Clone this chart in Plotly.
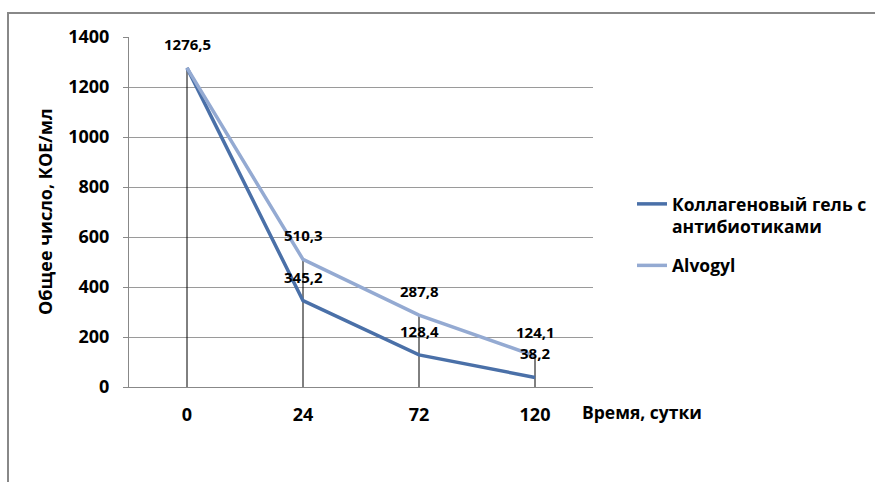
import plotly.graph_objects as go

categories = ["0", "24", "72", "120"]
series_names = ["Коллагеновый гель с<br>антибиотиками", "Alvogyl"]
collagen = [1276.5, 345.2, 128.4, 38.2]
alvogyl = [1276.5, 510.3, 287.8, 124.1]
y_ticks = [0, 200, 400, 600, 800, 1000, 1200, 1400]
x_title = "Время, сутки"
y_title = "Общее число, КОЕ/мл"

W, H = 875, 482
FONT = "Open Sans"
C_DARK = "#4a70a8"
C_LIGHT = "#94aad2"

def px_x(v):
    return v / W

def px_y(v):
    return 1 - v / H

fig = go.Figure()

# drop lines
for i, c in enumerate(categories):
    fig.add_trace(go.Scatter(
        x=[c, c], y=[0, max(collagen[i], alvogyl[i])],
        mode="lines", line=dict(color="black", width=1),
        showlegend=False, hoverinfo="skip"))

fig.add_trace(go.Scatter(x=categories, y=collagen, name=series_names[0],
                         mode="lines", line=dict(color=C_DARK, width=3.5),
                         legendgroup="a"))
fig.add_trace(go.Scatter(x=categories, y=alvogyl, name=series_names[1],
                         mode="lines", line=dict(color=C_LIGHT, width=3.5),
                         legendgroup="b"))

def fmt(v):
    return f"{v:.1f}".replace(".", ",")

LBL = dict(family=FONT, size=15, color="black", weight="bold")
anns = []
for i, c in enumerate(categories):
    anns.append(dict(x=i, y=collagen[i], xref="x", yref="y", text=fmt(collagen[i]),
                     showarrow=False, yshift=24, font=LBL))
    if alvogyl[i] != collagen[i]:
        anns.append(dict(x=i, y=alvogyl[i], xref="x", yref="y", text=fmt(alvogyl[i]),
                         showarrow=False, yshift=24, font=LBL))

anns.append(dict(x=px_x(642), y=px_y(412), xref="paper", yref="paper", text=x_title,
                 showarrow=False, xanchor="center", yanchor="middle",
                 font=dict(family=FONT, size=17.5, color="black", weight="bold")))
anns.append(dict(x=px_x(45), y=px_y(212), xref="paper", yref="paper", text=y_title,
                 showarrow=False, textangle=-90, xanchor="center", yanchor="middle",
                 font=dict(family=FONT, size=18, color="black", weight="bold")))

fig.update_layout(
    width=W, height=H,
    margin=dict(l=0, r=0, t=0, b=0, autoexpand=False),
    paper_bgcolor="white", plot_bgcolor="white",
    annotations=anns,
    shapes=[dict(type="rect", xref="paper", yref="paper",
                 x0=px_x(8), x1=1.05, y0=-0.05, y1=px_y(13),
                 line=dict(color="#888888", width=2), layer="below")],
    legend=dict(x=px_x(632), y=px_y(186), xanchor="left", yanchor="top",
                font=dict(family=FONT, size=17.5, color="black", weight="bold"),
                valign="top", traceorder="grouped", tracegroupgap=13,
                bgcolor="rgba(0,0,0,0)"),
    xaxis=dict(domain=[px_x(129), px_x(593)], type="category", automargin=False,
               range=[-0.5, 3.5], showgrid=False,
               showline=True, linecolor="#888888", linewidth=1,
               ticks="outside", ticklen=11, tickcolor="rgba(0,0,0,0)",
               tickfont=dict(family=FONT, size=18, color="black", weight="bold"),
               zeroline=False),
    yaxis=dict(domain=[px_y(387), px_y(37)], range=[0, 1400], automargin=False,
               tickvals=y_ticks, showgrid=True, gridcolor="#9a9a9a", gridwidth=1,
               showline=True, linecolor="#888888", linewidth=1,
               ticks="outside", ticklen=5, tickcolor="#888888",
               ticklabelstandoff=10,
               tickfont=dict(family=FONT, size=18, color="black", weight="bold"),
               zeroline=False),
)

fig.write_html("out.html")
